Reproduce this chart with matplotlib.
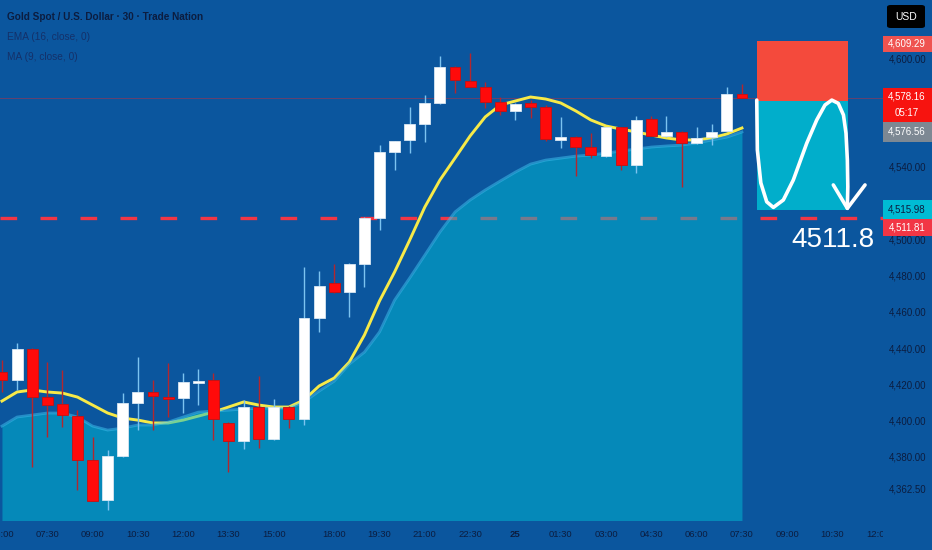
import matplotlib.pyplot as plt
from matplotlib.patches import Rectangle, FancyBboxPatch
import numpy as np

plt.rcParams['font.family'] = ['Liberation Sans', 'DejaVu Sans']

# 30 min candles, 24th 06:00 -> 25th 07:30 (no bars 17:00-17:30)
opens = [4426.8, 4422.4, 4439.5, 4413.0, 4409.0, 4402.5, 4378.3, 4356.2, 4380.5, 4409.7,
         4415.8, 4413.0, 4412.5, 4421.0, 4422.4, 4398.7, 4388.7, 4407.5, 4389.8, 4407.5,
         4400.9, 4456.6, 4475.9, 4470.9, 4486.4, 4511.7, 4548.2, 4554.8, 4563.6, 4575.2,
         4595.0, 4587.3, 4584.0, 4575.7, 4570.8, 4575.2, 4573.0, 4554.8, 4556.4, 4550.9,
         4545.9, 4561.9, 4541.0, 4566.4, 4557.0, 4559.2, 4553.1, 4556.4, 4559.7, 4580.1]
highs = [4433.4, 4442.8, 4440.0, 4432.3, 4427.9, 4405.9, 4391.0, 4383.8, 4415.2, 4435.1,
         4422.4, 4431.8, 4426.3, 4428.5, 4426.3, 4399.0, 4411.4, 4424.6, 4411.9, 4408.0,
         4484.7, 4482.5, 4486.4, 4487.0, 4512.5, 4552.0, 4554.5, 4573.0, 4579.6, 4601.1,
         4595.5, 4602.8, 4586.8, 4578.5, 4575.0, 4576.8, 4574.0, 4567.5, 4557.0, 4558.6,
         4562.2, 4562.2, 4568.0, 4568.0, 4568.0, 4559.5, 4561.9, 4563.6, 4584.0, 4585.7]
lows = [4415.8, 4416.9, 4374.4, 4391.0, 4396.5, 4361.7, 4355.5, 4350.7, 4380.0, 4394.8,
        4394.8, 4402.0, 4404.2, 4408.6, 4389.3, 4371.6, 4384.3, 4384.9, 4389.5, 4395.9,
        4397.6, 4448.9, 4470.5, 4457.1, 4473.7, 4505.1, 4538.2, 4547.6, 4553.7, 4574.6,
        4580.7, 4583.8, 4572.4, 4568.6, 4565.8, 4566.9, 4554.5, 4550.4, 4534.9, 4544.8,
        4545.5, 4538.2, 4536.6, 4556.8, 4556.4, 4528.8, 4552.8, 4552.0, 4559.5, 4578.0]
closes = [4422.4, 4439.5, 4413.0, 4408.6, 4403.1, 4378.3, 4355.7, 4380.5, 4409.7, 4415.8,
          4413.6, 4411.9, 4421.3, 4421.8, 4400.9, 4388.7, 4407.5, 4389.8, 4407.5, 4400.9,
          4456.6, 4474.2, 4470.9, 4486.4, 4511.7, 4548.2, 4554.2, 4563.6, 4575.2, 4595.0,
          4587.9, 4584.0, 4575.7, 4570.8, 4574.6, 4573.0, 4555.3, 4556.4, 4550.9, 4546.5,
          4561.9, 4541.0, 4565.8, 4557.0, 4559.2, 4553.1, 4555.9, 4559.2, 4580.1, 4578.16]

ema16 = [4410.8, 4415.8, 4416.9, 4415.8, 4415.2, 4413.0, 4408.6, 4404.2, 4401.4, 4400.3,
         4398.7, 4398.7, 4400.3, 4402.5, 4404.7, 4407.5, 4410.3, 4408.6, 4407.5, 4407.5,
         4411.4, 4419.1, 4423.5, 4432.3, 4447.2, 4466.0, 4482.0, 4499.6, 4517.8, 4532.7,
         4544.8, 4557.0, 4567.5, 4574.1, 4576.3, 4578.5, 4577.4, 4575.2, 4570.8, 4565.8,
         4562.5, 4560.8, 4559.2, 4557.5, 4555.9, 4554.8, 4554.8, 4555.9, 4558.1, 4561.4]
ma_area = [4397.0, 4402.0, 4403.1, 4404.2, 4404.2, 4402.0, 4397.0, 4394.8, 4395.9, 4397.6,
           4397.6, 4399.2, 4402.0, 4404.7, 4405.3, 4405.8, 4406.4, 4406.9, 4406.9, 4406.9,
           4410.3, 4416.3, 4421.8, 4431.2, 4437.8, 4448.9, 4466.5, 4478.7, 4491.3, 4504.0,
           4515.1, 4521.7, 4527.2, 4532.2, 4537.1, 4541.5, 4543.7, 4544.8, 4545.9, 4546.5,
           4547.6, 4548.7, 4549.8, 4550.9, 4551.5, 4552.0, 4553.1, 4554.8, 4556.4, 4559.2]

tick_bars = [0, 3, 6, 9, 12, 15, 18, 22, 25, 28, 31, 34, 37, 40, 43, 46, 49, 52, 55, 58]
tick_labels = ['06:00', '07:30', '09:00', '10:30', '12:00', '13:30', '15:00', '18:00',
               '19:30', '21:00', '22:30', '25', '01:30', '03:00', '04:30', '06:00',
               '07:30', '09:00', '10:30', '12:00']
price_ticks = [4362.5, 4380, 4400, 4420, 4440, 4460, 4480, 4500, 4520, 4540, 4600]

last_price = 4578.16
target = 4511.81
stop = 4609.29
entry = 4576.56
tp_level = 4515.98

# hand drawn curve on the short-position box (bar, price)
curve_x = [49.98, 50.02, 50.25, 50.64, 51.08, 51.74, 52.40, 53.29, 53.95, 54.50, 54.95,
           55.38, 55.72, 55.89, 55.98, 56.01, 55.98]
curve_y = [4576.8, 4549.3, 4531.1, 4520.7, 4517.6, 4521.7, 4532.7, 4553.0, 4565.8, 4574.1,
           4576.8, 4575.0, 4568.6, 4558.5, 4543.7, 4529.0, 4517.1]
head_x = [55.05, 55.98, 57.15]
head_y = [4530.0, 4517.1, 4530.0]

BG = '#0b569e'
TXT = '#0c1d40'
W, H = 932, 550


def main():
    fig = plt.figure(figsize=(9.32, 5.5), dpi=100, facecolor=BG)
    ax = fig.add_axes([0, 30 / H, 883 / W, 520 / H], facecolor=BG)
    ax.set_xlim(-0.13, 58.34)
    ax.set_ylim(4345.2, 4632.0)
    for s in ax.spines.values():
        s.set_visible(False)

    x = np.arange(len(opens))
    o = np.array(opens)
    c = np.array(closes)
    up = c >= o

    ax.axhline(target, color='#f23645', lw=2.4, dashes=(5, 7), zorder=1)
    ax.axhline(last_price, color='#8a3a5a', lw=0.7, alpha=0.7, zorder=1)

    ax.plot(x, ema16, color='#f7ea48', lw=2.1, zorder=2)
    ax.fill_between(x, ma_area, 4300, color='#00bcd4', alpha=0.5, lw=0, zorder=3)
    ax.plot(x, ma_area, color='#40c4f0', lw=2, alpha=0.5, zorder=3.1)

    wick_cols = ['#7cc3f0' if u else '#b3262e' for u in up]
    ax.vlines(x, lows, highs, colors=wick_cols, lw=1, zorder=4)
    body_cols = ['#ffffff' if u else '#ff0a0a' for u in up]
    edge_cols = ['#d8e6f2' if u else '#c81010' for u in up]
    ax.bar(x, np.abs(c - o), bottom=np.minimum(o, c), width=0.72, color=body_cols,
           edgecolor=edge_cols, linewidth=0.6, zorder=5)

    # short position tool
    ax.add_patch(Rectangle((50, entry), 6, stop - entry, fc='#f44a3c', ec='none', zorder=6))
    ax.add_patch(Rectangle((50, tp_level), 6, entry - tp_level, fc='#01aecb', ec='none', zorder=6))
    ax.plot(curve_x, curve_y, color='white', lw=2.6, solid_capstyle='round',
            solid_joinstyle='round', zorder=7)
    ax.plot(head_x, head_y, color='white', lw=2.6, solid_capstyle='round',
            solid_joinstyle='round', zorder=7)
    ax.text(55.03, 4499.6, '4511.8', ha='center', va='center', fontsize=20,
            color='white', zorder=8)

    # axes ticks
    ax.yaxis.tick_right()
    ax.set_yticks(price_ticks)
    ax.set_yticklabels([f'{v:,.2f}' for v in price_ticks])
    ax.tick_params(axis='y', length=0, pad=4, labelsize=7, labelcolor=TXT)
    ax.set_xticks(tick_bars)
    ax.set_xticklabels(tick_labels)
    ax.tick_params(axis='x', length=0, pad=7, labelsize=6.8, labelcolor=TXT)
    ax.get_xticklabels()[11].set_fontweight('bold')

    # price tags on the right scale
    tr = ax.get_yaxis_transform()
    xr = 932 / 883

    def tag(yc, hpx, face, lines, fg):
        h = hpx / 1.813
        ax.add_patch(Rectangle((1.0, yc - h / 2), xr - 1.0, h, transform=tr, fc=face,
                               ec='none', clip_on=False, zorder=9))
        n = len(lines)
        for k, t in enumerate(lines):
            yy = yc + h / 2 - (k + 0.5) * h / n
            ax.text(1.027, yy, t, transform=tr, ha='center', va='center', fontsize=7,
                    color=fg, clip_on=False, zorder=10)

    tag(4608.0, 16, '#ef5350', [f'{stop:,.2f}'], 'white')
    tag(4574.1, 34, '#f7130f', [f'{last_price:,.2f}', '05:17'], 'white')
    tag(4559.2, 20, '#7d8893', [f'{entry:,.2f}'], 'white')
    tag(4516.4, 19, '#00bcd4', [f'{tp_level:,.2f}'], TXT)
    tag(4506.5, 17, '#f23645', [f'{target:,.2f}'], 'white')

    fig.add_artist(Rectangle((883 / W, 0), 49 / W, 30 / H, transform=fig.transFigure,
                             fc=BG, ec='none', zorder=3))
    fig.add_artist(FancyBboxPatch((887 / W, 1 - 28 / H), 38 / W, 23 / H,
                                  boxstyle='round,pad=0,rounding_size=0.004',
                                  transform=fig.transFigure, fc='#000000', ec='none', zorder=4))
    fig.text(906 / W, 1 - 16.5 / H, 'USD', ha='center', va='center', fontsize=7.5,
             color='white', zorder=5)

    fig.text(7 / W, 1 - 17 / H, 'Gold Spot / U.S. Dollar · 30 · Trade Nation', fontsize=7.2,
             fontweight='bold', color=TXT, va='center')
    fig.text(7 / W, 1 - 37 / H, 'EMA (16, close, 0)', fontsize=7.3, color='#14316a', va='center')
    fig.text(7 / W, 1 - 57 / H, 'MA (9, close, 0)', fontsize=7.3, color='#14316a', va='center')

    fig.savefig('out.png', dpi=100, facecolor=BG)


if __name__ == '__main__':
    main()
